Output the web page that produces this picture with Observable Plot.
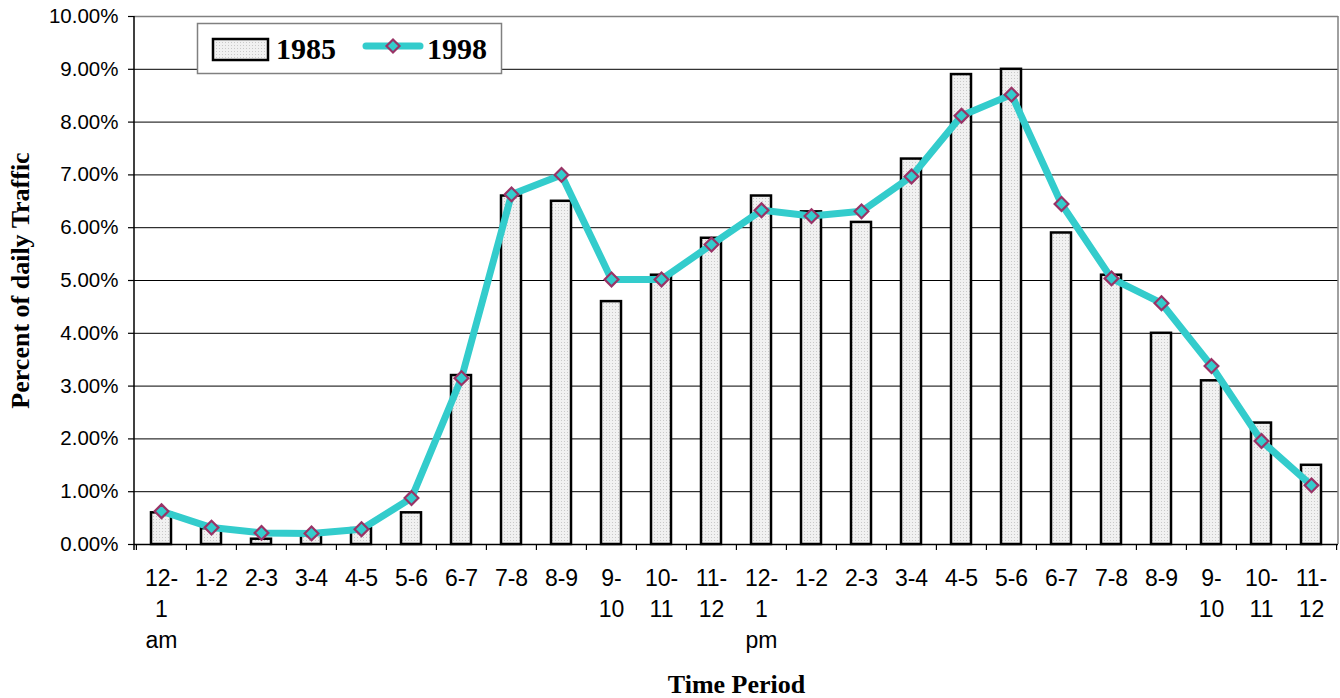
<!DOCTYPE html>
<html>
<head>
<meta charset="utf-8">
<script src="https://cdn.jsdelivr.net/npm/d3@7"></script>
<script src="https://cdn.jsdelivr.net/npm/@observablehq/plot@0.6"></script>
<style>
  body { margin: 0; background: #fff; }
  #chart { width: 1340px; height: 698px; }
</style>
</head>
<body>
<div id="chart"></div>
<script>
// ---- data ----
const periods = [
  "12-1am","1-2am","2-3am","3-4am","4-5am","5-6am","6-7am","7-8am","8-9am","9-10am","10-11am","11-12am",
  "12-1pm","1-2pm","2-3pm","3-4pm","4-5pm","5-6pm","6-7pm","7-8pm","8-9pm","9-10pm","10-11pm","11-12pm"
];
const tickLabels = [
  "12-\n1\nam","1-2","2-3","3-4","4-5","5-6","6-7","7-8","8-9","9-\n10","10-\n11","11-\n12",
  "12-\n1\npm","1-2","2-3","3-4","4-5","5-6","6-7","7-8","8-9","9-\n10","10-\n11","11-\n12"
];
const traffic1985 = [0.6,0.3,0.1,0.2,0.3,0.6,3.2,6.6,6.5,4.6,5.1,5.8,6.6,6.3,6.1,7.3,8.9,9.0,5.9,5.1,4.0,3.1,2.3,1.5];
const traffic1998 = [0.63,0.32,0.22,0.21,0.29,0.88,3.15,6.63,7.0,5.02,5.02,5.68,6.33,6.22,6.31,6.97,8.12,8.52,6.45,5.04,4.57,3.38,1.96,1.12];
const yTicks = [0,1,2,3,4,5,6,7,8,9,10];
const seriesNames = ["1985","1998"];
const yTitle = "Percent of daily Traffic";
const xTitle = "Time Period";

const data = periods.map((p, i) => ({period: p, label: tickLabels[i], v85: traffic1985[i], v98: traffic1998[i]}));

const W = 1340, H = 698, ML = 134, MR = 2, MT = 16, MB = 154;
const step = (W - ML - MR) / periods.length;
const pxPerUnit = (H - MT - MB) / 10;
const tickLen = 6 / pxPerUnit;
const serif = "'Liberation Serif','Times New Roman',serif";

const plot = Plot.plot({
  width: W, height: H,
  marginLeft: ML, marginRight: MR, marginTop: MT, marginBottom: MB,
  style: {background: "#fff", color: "#000", fontFamily: "'Liberation Sans', Arial, sans-serif", overflow: "visible"},
  x: {type: "band", domain: periods, paddingInner: 0.6, paddingOuter: 0.3, axis: null},
  y: {domain: [0, 10], axis: null},
  marks: [
    Plot.ruleY(yTicks.slice(1, -1), {stroke: "#000", strokeWidth: 1}),
    Plot.ruleY([10], {stroke: "#808080", strokeWidth: 1.5}),
    Plot.axisY({ticks: yTicks, tickSize: 6, tickPadding: 10, tickFormat: d => d.toFixed(2) + "%", fontSize: 20.5, label: null, stroke: "#000", strokeWidth: 1.2}),
    Plot.barY(data, {x: "period", y: "v85", fill: "url(#dots)", stroke: "#000", strokeWidth: 2.5}),
    Plot.ruleY([0], {stroke: "#000", strokeWidth: 1.5}),
    Plot.ruleX(data, {x: "period", dx: -step / 2, y1: 0, y2: -tickLen, stroke: "#000", strokeWidth: 1.2}),
    Plot.ruleX([periods[periods.length - 1]], {x: d => d, dx: step / 2, y1: 0, y2: -tickLen, stroke: "#000", strokeWidth: 1.2}),
    Plot.line(data, {x: "period", y: "v98", stroke: "#33CCCC", strokeWidth: 7, strokeLinejoin: "round", strokeLinecap: "round"}),
    Plot.dot(data, {x: "period", y: "v98", symbol: "diamond2", r: 6.2, fill: "#33CCCC", stroke: "#993366", strokeWidth: 2.2}),
    Plot.text(data, {x: "period", text: "label", frameAnchor: "bottom", lineAnchor: "top", dy: 19, lineHeight: 1.36, fontSize: 23, fill: "#000"}),
    Plot.text([xTitle], {text: d => d, frameAnchor: "bottom", textAnchor: "middle", lineAnchor: "middle", dy: 140.5, fontFamily: serif, fontWeight: "bold", fontSize: 26, fill: "#000"}),
    Plot.text([yTitle], {text: d => d, frameAnchor: "left", textAnchor: "middle", dx: -114, rotate: -90, lineAnchor: "middle", fontFamily: serif, fontWeight: "bold", fontSize: 26, fill: "#000"})
  ]
});

const svg = d3.select(plot);
svg.insert("defs", ":first-child").html(
  '<pattern id="dots" width="3" height="3" patternUnits="userSpaceOnUse">' +
  '<rect width="3" height="3" fill="#f1f1f1"/><rect width="1" height="1" fill="#c9c9c9"/></pattern>'
);
// frame borders
svg.append("line").attr("x1", W - MR).attr("x2", W - MR).attr("y1", MT).attr("y2", H - MB)
  .attr("stroke", "#808080").attr("stroke-width", 1.5);
svg.append("line").attr("x1", ML).attr("x2", ML).attr("y1", MT).attr("y2", H - MB + 6)
  .attr("stroke", "#000").attr("stroke-width", 1.5);

// legend
const lg = svg.append("g").attr("text-anchor", "start");
lg.append("rect").attr("x", 197.5).attr("y", 23.5).attr("width", 304).attr("height", 50)
  .attr("fill", "#fff").attr("stroke", "#808080").attr("stroke-width", 1.5);
lg.append("rect").attr("x", 213).attr("y", 39).attr("width", 55).attr("height", 21)
  .attr("fill", "url(#dots)").attr("stroke", "#000").attr("stroke-width", 2.5);
lg.append("text").attr("x", 276).attr("y", 59).attr("text-anchor", "start").text(seriesNames[0])
  .attr("font-family", serif).attr("font-weight", "bold").attr("font-size", 30).attr("fill", "#000");
lg.append("line").attr("x1", 366).attr("x2", 420).attr("y1", 46).attr("y2", 46)
  .attr("stroke", "#33CCCC").attr("stroke-width", 7).attr("stroke-linecap", "round");
lg.append("path").attr("d", "M393,39.5L399.5,46L393,52.5L386.5,46Z")
  .attr("fill", "#33CCCC").attr("stroke", "#993366").attr("stroke-width", 2.2);
lg.append("text").attr("x", 427).attr("y", 59).attr("text-anchor", "start").text(seriesNames[1])
  .attr("font-family", serif).attr("font-weight", "bold").attr("font-size", 30).attr("fill", "#000");

document.getElementById("chart").appendChild(plot);
</script>
</body>
</html>
